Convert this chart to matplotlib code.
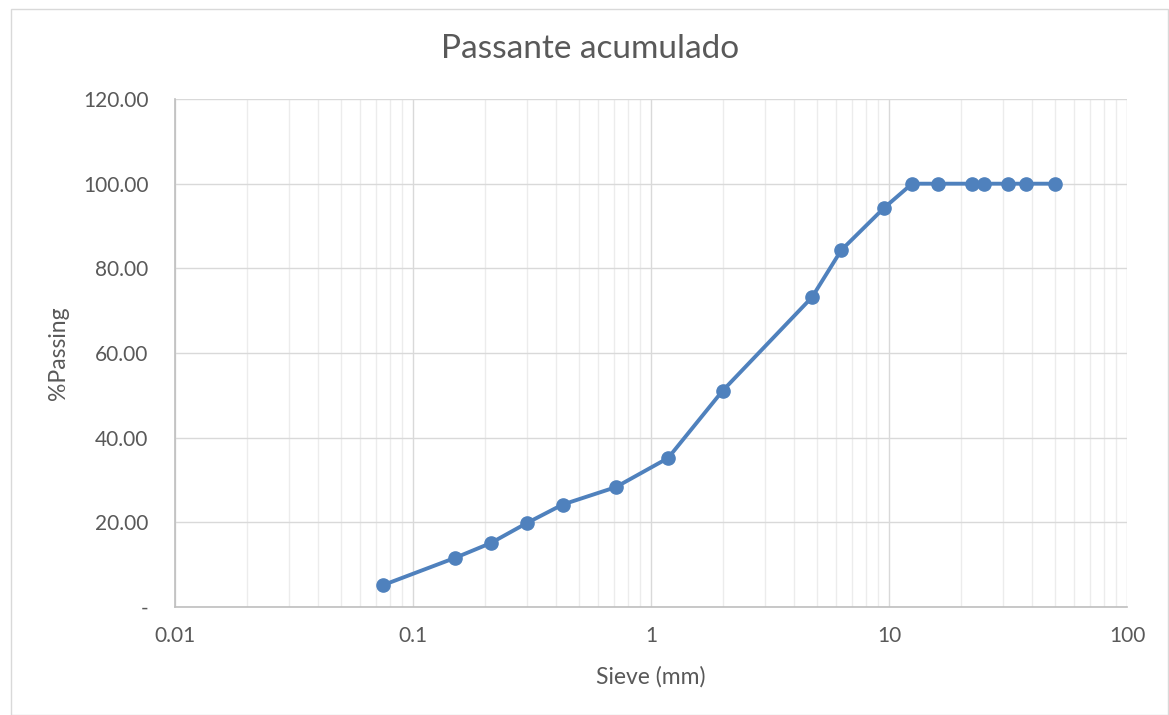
import matplotlib
matplotlib.use("Agg")
import matplotlib.pyplot as plt
from matplotlib.ticker import FixedLocator, FuncFormatter, LogLocator, NullFormatter
from matplotlib.patches import Rectangle

# Sieve sizes (mm) and cumulative passing (%)
sieve_mm = [0.075, 0.15, 0.212, 0.3, 0.425, 0.71, 1.18, 2.0, 4.75, 6.3, 9.5,
            12.5, 16, 22.4, 25, 31.5, 37.5, 50]
passing = [5.2, 11.6, 15.1, 19.8, 24.2, 28.3, 35.2, 51.1, 73.2, 84.3, 94.2,
           100, 100, 100, 100, 100, 100, 100]

x_ticks = [0.01, 0.1, 1, 10, 100]
x_tick_labels = ["0.01", "0.1", "1", "10", "100"]
y_ticks = [0, 20, 40, 60, 80, 100, 120]

plt.rcParams['font.family'] = ['Lato', 'DejaVu Sans']
text_color = "#595959"
line_color = "#4f81bd"

fig = plt.figure(figsize=(11.69, 7.15), dpi=100)
fig.patch.set_facecolor("white")
fig.patches.append(Rectangle((0.009, 0.0), 0.99, 0.988, transform=fig.transFigure,
                             fill=False, edgecolor="#d9d9d9", linewidth=1.0))

ax = fig.add_axes([0.1497, 0.151, 0.8144, 0.7105])
ax.plot(sieve_mm, passing, color=line_color, linewidth=2.8, marker="o",
        markersize=9.5, markerfacecolor=line_color, markeredgecolor=line_color,
        zorder=3)

ax.set_xscale("log")
ax.set_xlim(0.01, 100)
ax.set_ylim(0, 120)

ax.xaxis.set_major_locator(FixedLocator(x_ticks))
ax.xaxis.set_major_formatter(FuncFormatter(lambda v, p: x_tick_labels[x_ticks.index(v)] if v in x_ticks else ""))
ax.xaxis.set_minor_locator(LogLocator(base=10, subs=range(2, 10)))
ax.xaxis.set_minor_formatter(NullFormatter())
ax.yaxis.set_major_locator(FixedLocator(y_ticks))
ax.yaxis.set_major_formatter(FuncFormatter(lambda v, p: "-" if v == 0 else f"{v:.2f}"))

ax.grid(True, which="major", color="#d9d9d9", linewidth=1.0, zorder=0)
ax.grid(True, which="minor", axis="x", color="#ececec", linewidth=1.0, zorder=0)
ax.set_axisbelow(True)

for side in ["top", "right"]:
    ax.spines[side].set_visible(False)
for side in ["left", "bottom"]:
    ax.spines[side].set_color("#bfbfbf")
    ax.spines[side].set_linewidth(1.2)

ax.tick_params(axis="both", which="both", length=0, colors=text_color, labelsize=15)
ax.tick_params(axis="x", pad=14)
ax.tick_params(axis="y", pad=19)

ax.set_xlabel("Sieve (mm)", fontsize=16.5, color=text_color, labelpad=14)
ax.set_ylabel("%Passing", fontsize=16.5, color=text_color, labelpad=10)
fig.text(0.505, 0.932, "Passante acumulado", ha="center", va="center",
         fontsize=24, color=text_color)

fig.savefig("out.png", dpi=100)
